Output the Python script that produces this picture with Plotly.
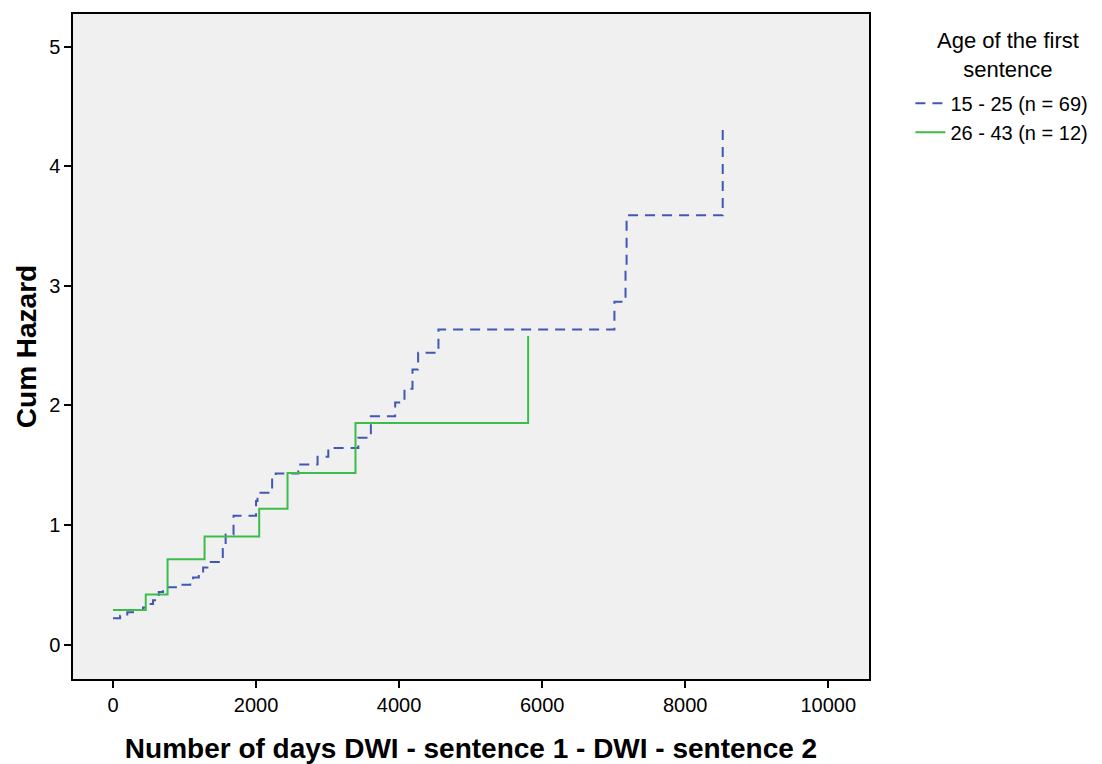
import plotly.graph_objects as go

# Group 15 - 25 (n = 69): event times (days) and cumulative hazard
young_days = [0, 100, 200, 320, 420, 480, 560, 620, 640, 700, 900, 1080, 1120, 1200,
              1260, 1320, 1535, 1575, 1685, 2000, 2020, 2225, 2275, 2590, 2860, 3010,
              3430, 3605, 3945, 4075, 4187, 4266, 4550, 7010, 7165, 7180, 8524]
young_hazard = [0.22, 0.24, 0.27, 0.29, 0.31, 0.34, 0.37, 0.40, 0.44, 0.48, 0.50, 0.53,
                0.56, 0.60, 0.645, 0.69, 0.80, 0.92, 1.077, 1.20, 1.27, 1.40, 1.43,
                1.506, 1.57, 1.645, 1.73, 1.91, 2.025, 2.14, 2.30, 2.44, 2.636, 2.867,
                3.17, 3.59, 4.31]

# Group 26 - 43 (n = 12)
older_days = [0, 458, 763, 1280, 2044, 2440, 3390, 5804]
older_hazard = [0.29, 0.418, 0.714, 0.904, 1.135, 1.436, 1.854, 2.58]

x_ticks = [0, 2000, 4000, 6000, 8000, 10000]
y_ticks = [0, 1, 2, 3, 4, 5]

fig = go.Figure()
fig.add_trace(go.Scatter(
    x=young_days, y=young_hazard, mode="lines", line_shape="hv",
    name="15 - 25 (n = 69)",
    line=dict(color="#3F57B5", width=2, dash="10px,7px"),
))
fig.add_trace(go.Scatter(
    x=older_days, y=older_hazard, mode="lines", line_shape="hv",
    name="26 - 43 (n = 12)",
    line=dict(color="#3CBD4A", width=2),
))

font_family = "Liberation Sans, Arial, sans-serif"
fig.update_layout(
    width=1094, height=756,
    margin=dict(l=65, r=233, t=6, b=85, autoexpand=False),
    paper_bgcolor="white",
    plot_bgcolor="#F0F0F0",
    font=dict(family=font_family, color="black", size=20),
    showlegend=True,
    legend=dict(
        x=1.052, y=0.895, xanchor="left", yanchor="top",
        font=dict(size=20, family=font_family),
        bgcolor="rgba(0,0,0,0)", tracegroupgap=0, itemwidth=30,
    ),
    annotations=[dict(
        text="Age of the first<br>sentence", xref="paper", yref="paper",
        x=1.1746, y=0.982, xanchor="center", yanchor="top", showarrow=False,
        align="center", font=dict(size=22, family=font_family, color="black"),
    )],
    xaxis=dict(
        range=[-559, 10569], tickvals=x_ticks,
        ticktext=[str(v) for v in x_ticks],
        showgrid=False, zeroline=False, automargin=False,
        showline=True, linecolor="black", linewidth=1.5, mirror=True,
        ticks="outside", ticklen=7, tickwidth=1.5, tickcolor="black",
        tickfont=dict(size=20),
        title=dict(text="<b>Number of days DWI - sentence 1 - DWI - sentence 2</b>",
                   font=dict(size=28), standoff=25),
    ),
    yaxis=dict(
        range=[-0.288, 5.274], tickvals=y_ticks,
        ticktext=[str(v) for v in y_ticks],
        showgrid=False, zeroline=False, automargin=False,
        showline=True, linecolor="black", linewidth=1.5, mirror=True,
        ticks="outside", ticklen=7, tickwidth=1.5, tickcolor="black",
        tickfont=dict(size=20),
        title=dict(text="<b>Cum Hazard</b>", font=dict(size=28), standoff=4),
    ),
)

fig.write_html("out.html")
